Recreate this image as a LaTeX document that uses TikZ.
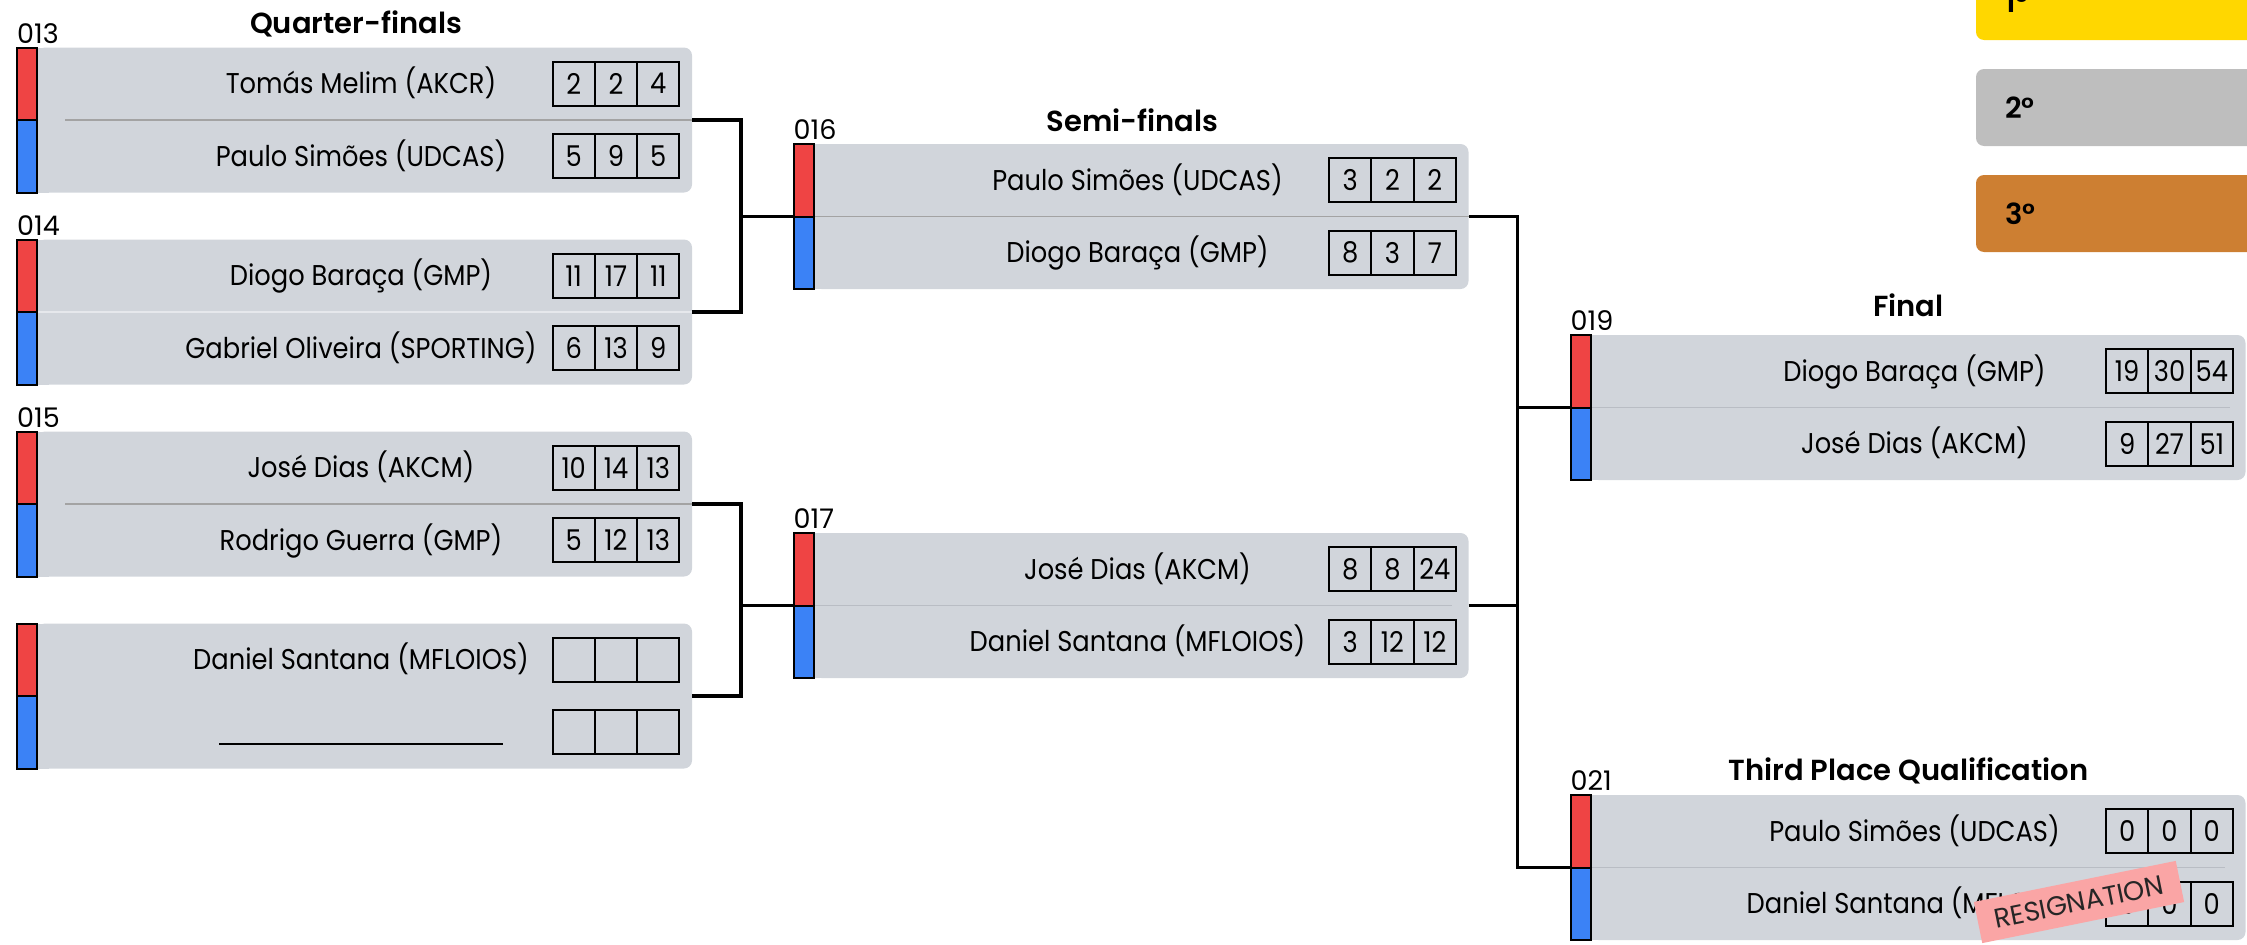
\documentclass[tikz,border=0pt]{standalone}
\usepackage{fontspec}
\setmainfont[FakeStretch=0.9]{Poppins}
\newfontfamily\plainfont{Poppins}
\newfontfamily\headfont{Poppins SemiBold}
\usetikzlibrary{positioning}
\definecolor{boxgrey}{HTML}{D1D5DB}
\definecolor{barred}{HTML}{EF4444}
\definecolor{barblue}{HTML}{3B82F6}
\definecolor{divdark}{HTML}{A3A3A3}
\definecolor{divpale}{HTML}{B9BDC4}
\definecolor{divwhite}{HTML}{E6E8EC}
\definecolor{gold}{HTML}{FFD700}
\definecolor{silver}{HTML}{BEBEBE}
\definecolor{bronze}{HTML}{CD7F32}
\definecolor{stamp}{HTML}{FAA5A5}
\tikzset{
	bar/.style={draw=black, line width=2pt},
	link/.style={line width=3.2pt},
	cell/.style={draw=black, line width=2pt, minimum width=42.3pt, minimum height=44pt, inner sep=0pt, outer sep=0pt, font=\fontsize{28.6}{34}\selectfont},
	player/.style={anchor=base, inner sep=0pt, font=\fontsize{28.6}{34}\selectfont},
	matchno/.style={anchor=base west, inner sep=0pt, font=\plainfont\fontsize{27}{32}\selectfont},
	stage/.style={anchor=base, inner sep=0pt, font=\headfont\fontsize{29}{35}\selectfont},
	rank/.style={anchor=base west, inner sep=0pt, font=\headfont\fontsize{29}{35}\selectfont},
	stampbox/.style={fill=stamp, rotate=11.5, minimum width=206pt, minimum height=42pt, inner sep=0pt, font=\plainfont\fontsize{27}{32}\selectfont, text=black!85}
}
% #1 name, #2/#3 top left of the grey box, #4 match number, #5 divider colour, #6/#7 divider span
\newcommand\matchbox[7]{%
	\coordinate (#1) at (#2,#3);
	\fill[boxgrey, rounded corners=8pt] (#1) rectangle ++(655,145);
	\fill[boxgrey] (#1) rectangle ++(12,145);
	\draw[#5, line width=1.3pt] ([shift={(#6,72.5)}]#1) -- ([shift={(#7,72.5)}]#1);
	\draw[bar, fill=barred] (#1) ++(-20,0) rectangle ++(20,72.5);
	\draw[bar, fill=barblue] (#1) ++(-20,72.5) rectangle ++(20,72.5);
	\coordinate (#1-in) at ([shift={(-20,72.5)}]#1);
	\coordinate (#1-out) at ([shift={(655,72.5)}]#1);
	\node[matchno] (#1-no) at ([shift={(-20,-4.5)}]#1) {#4};
}
\begin{document}
\begin{tikzpicture}[x=1pt, y=-1pt]
	\useasboundingbox (0,0) rectangle (2247,945);
	\clip (0,0) rectangle (2247,945);
	\foreach \p/\c/\t in {1/gold/-37, 2/silver/69, 3/bronze/175} {
		\fill[\c, rounded corners=8pt] (1976,\t) rectangle ++(320,77);
		\node[rank] (rank\p) at (2005,\t+49) {\p°};
	}
	\node[stage] (qf) at (356,33) {Quarter-finals};
	\node[stage] (sf) at (1132.5,131.5) {Semi-finals};
	\node[stage] (fin) at (1908.5,316.5) {Final};
	\node[stage] (third) at (1908.5,780.5) {Third Place Qualification};
	\matchbox{m13}{37}{47.5}{013}{divdark}{28}{655}
	\matchbox{m14}{37}{239.5}{014}{divwhite}{0}{655}
	\matchbox{m15}{37}{431.5}{015}{divdark}{28}{655}
	\matchbox{bye}{37}{623.5}{}{draw=none}{0}{655}
	\matchbox{m16}{813.5}{144}{016}{divdark}{0}{655}
	\matchbox{m17}{813.5}{533}{017}{divpale}{0}{638}
	\matchbox{m19}{1590.5}{335}{019}{divpale}{0}{639}
	\matchbox{m21}{1590.5}{795}{021}{divpale}{0}{634}
	\foreach \m/\r/\who/\a/\b/\c in {
		m13/1/Tomás Melim (AKCR)/2/2/4,
		m13/2/Paulo Simões (UDCAS)/5/9/5,
		m14/1/Diogo Baraça (GMP)/11/17/11,
		m14/2/Gabriel Oliveira (SPORTING)/6/13/9,
		m15/1/José Dias (AKCM)/10/14/13,
		m15/2/Rodrigo Guerra (GMP)/5/12/13,
		bye/1/Daniel Santana (MFLOIOS)/{}/{}/{},
		bye/2/{\rule[-3pt]{284pt}{2pt}}/{}/{}/{},
		m16/1/Paulo Simões (UDCAS)/3/2/2,
		m16/2/Diogo Baraça (GMP)/8/3/7,
		m17/1/José Dias (AKCM)/8/8/24,
		m17/2/Daniel Santana (MFLOIOS)/3/12/12,
		m19/1/Diogo Baraça (GMP)/19/30/54,
		m19/2/José Dias (AKCM)/9/27/51,
		m21/1/Paulo Simões (UDCAS)/0/0/0,
		m21/2/Daniel Santana (MFLOIOS)/0/0/0}
	{
		\node[player] (\m-\r) at ([shift={(324,\r*72.5-26.25)}]\m) {\who};
		\node[cell] (\m-\r-a) at ([shift={(536.7,\r*72.5-36.25)}]\m) {\a};
		\node[cell, right=0pt of \m-\r-a] (\m-\r-b) {\b};
		\node[cell, right=0pt of \m-\r-b] (\m-\r-c) {\c};
	}
	\draw[link] (m13-out) -- ++(49,0) coordinate (j13) |- (m14-out);
	\draw[link] (j13 |- m16-in) -- (m16-in);
	\draw[link] (m15-out) -- ++(49,0) coordinate (j15) |- (bye-out);
	\draw[link] (j15 |- m17-in) -- (m17-in);
	\draw[link] (m16-out) -- ++(49,0) coordinate (j16) |- (m21-in);
	\draw[link] (m17-out) -- (j16 |- m17-out);
	\draw[link] (j16 |- m19-in) -- (m19-in);
	\node[stampbox] (resign) at (2079,902) {RESIGNATION};
\end{tikzpicture}
\end{document}
